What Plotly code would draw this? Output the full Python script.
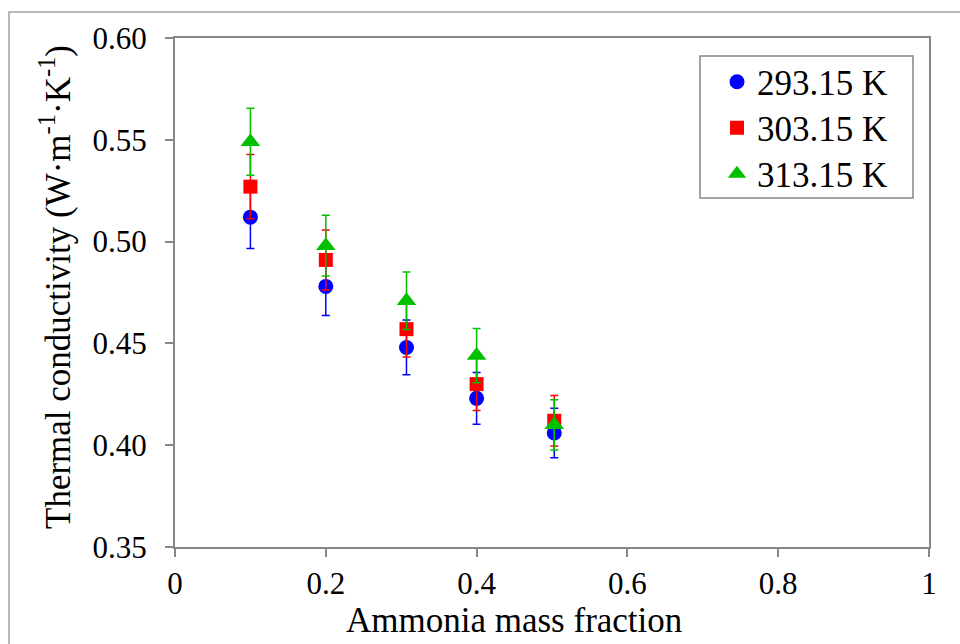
import plotly.graph_objects as go

mass_fraction = [0.1, 0.2, 0.307, 0.4, 0.503]
k_293 = [0.512, 0.478, 0.448, 0.423, 0.406]
k_303 = [0.527, 0.491, 0.457, 0.430, 0.412]
k_313 = [0.549, 0.498, 0.471, 0.444, 0.410]
series_names = ["293.15 K", "303.15 K", "313.15 K"]
error_percent = 3
x_title = "Ammonia mass fraction"
y_title = "Thermal conductivity (W·m<sup>-1</sup>·K<sup>-1</sup>)"

FONT = "'Liberation Serif', 'Times New Roman', Times, serif"
GRAY = "#878787"

L, R, T, B = 175, 929, 38, 547
PW, PH = R - L, B - T


def px(xp):
    return (xp - L) / PW


def py(yp):
    return (B - yp) / PH


fig = go.Figure()
styles = [("#0000ff", "circle", 15), ("#ff0000", "square", 14), ("#00c000", "triangle-up", 17)]
legend_ids = ["legend", "legend2", "legend3"]
legend_rows = [82, 128, 174]
for name, vals, (col, sym, sz), lid in zip(series_names, [k_293, k_303, k_313], styles, legend_ids):
    fig.add_trace(go.Scatter(
        x=mass_fraction, y=vals, name=name, mode="markers", legend=lid,
        marker=dict(color=col, symbol=sym, size=sz, line=dict(width=0)),
        error_y=dict(type="percent", value=error_percent, color=col, thickness=1.5, width=4),
    ))

legend_layout = {}
for lid, row in zip(legend_ids, legend_rows):
    legend_layout[lid] = dict(x=px(717), y=py(row), xanchor="left", yanchor="middle",
                              borderwidth=0, bgcolor="rgba(0,0,0,0)",
                              font=dict(family=FONT, size=35), itemwidth=30)

fig.update_layout(
    width=960, height=644,
    margin=dict(l=L, r=960 - R, t=T, b=644 - B),
    paper_bgcolor="white", plot_bgcolor="white",
    font=dict(family=FONT, color="black", size=30),
    showlegend=True,
    shapes=[
        dict(type="rect", xref="paper", yref="paper",
             x0=px(9), x1=px(970), y0=py(660), y1=py(12),
             line=dict(color="#a0a0a0", width=1.5), layer="below"),
        dict(type="rect", xref="paper", yref="paper",
             x0=px(700), x1=px(913), y0=py(198), y1=py(56),
             line=dict(color=GRAY, width=1.5), fillcolor="white", layer="below"),
    ],
    annotations=[
        dict(text=x_title, xref="paper", yref="paper", x=px(514), y=py(620),
             xanchor="center", yanchor="middle", showarrow=False,
             font=dict(family=FONT, size=35)),
        dict(text=y_title, xref="paper", yref="paper", x=px(55), y=py(287),
             xanchor="center", yanchor="middle", showarrow=False, textangle=-90,
             font=dict(family=FONT, size=35)),
    ],
    **legend_layout,
)
fig.update_xaxes(range=[0, 1], tickvals=[0, 0.2, 0.4, 0.6, 0.8, 1],
                 ticktext=["0", "0.2", "0.4", "0.6", "0.8", "1"],
                 showgrid=False, zeroline=False, showline=True, linecolor=GRAY, linewidth=2,
                 mirror=True, ticks="outside", ticklen=8, tickcolor=GRAY, tickwidth=1.5,
                 tickfont=dict(family=FONT, size=31))
fig.update_yaxes(range=[0.35, 0.60], tickvals=[0.35, 0.40, 0.45, 0.50, 0.55, 0.60],
                 ticktext=["0.35", "0.40", "0.45", "0.50", "0.55", "0.60"],
                 showgrid=False, zeroline=False, showline=True, linecolor=GRAY, linewidth=2,
                 mirror=True, ticks="outside", ticklen=8, tickcolor=GRAY, tickwidth=1.5,
                 tickfont=dict(family=FONT, size=31), ticklabelstandoff=12)

fig.write_html("out.html")
